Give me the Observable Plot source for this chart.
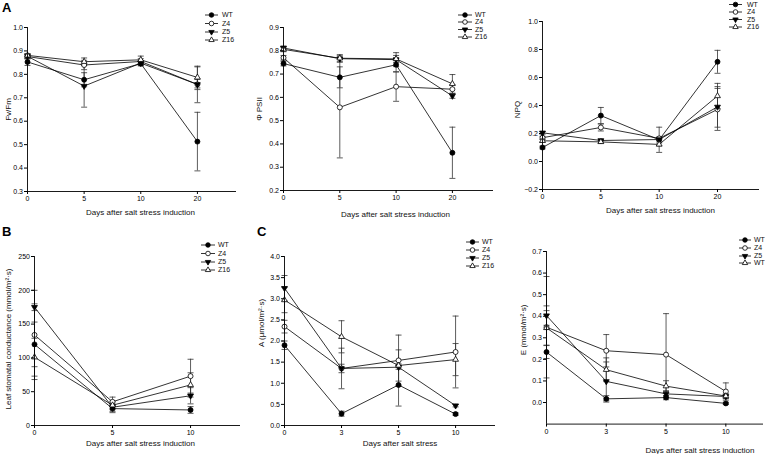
<!DOCTYPE html>
<html><head><meta charset="utf-8">
<script src="https://cdn.jsdelivr.net/npm/d3@7"></script>
<script src="https://cdn.jsdelivr.net/npm/@observablehq/plot@0.6"></script>
<style>
body{margin:0;background:#fff;}
#fig{position:relative;width:765px;height:454px;overflow:hidden;font-family:"Liberation Sans",Arial,sans-serif;background:#fff;}
#fig svg{position:absolute;overflow:visible;}
.letter{position:absolute;font-weight:bold;font-size:13px;line-height:13px;color:#000;}
</style></head><body><div id="fig"></div>
<script>
// ---- data ----
const series = ["WT", "Z4", "Z5", "Z16"];
const legendE = ["WT", "Z4", "Z5", "WT"];
const daysA = ["0", "5", "10", "20"];
const daysB = ["0", "5", "10"];
const daysC = ["0", "3", "5", "10"];

const fvfm = [[0.853, 0.777, 0.846, 0.513], [0.876, 0.84, 0.855, 0.757], [0.877, 0.75, 0.848, 0.757], [0.881, 0.854, 0.862, 0.787]];
const fvfmErr = [[0.015, 0.03, 0.01, 0.125], [0.01, 0.02, 0.012, 0.078], [0.01, 0.09, 0.01, 0.022], [0.008, 0.016, 0.016, 0.045]];

const psii = [[0.745, 0.686, 0.74, 0.362], [0.77, 0.557, 0.646, 0.635], [0.812, 0.766, 0.762, 0.606], [0.806, 0.768, 0.765, 0.658]];
const psiiErr = [[0.01, 0.045, 0.03, 0.11], [0.01, 0.217, 0.063, 0.02], [0.008, 0.015, 0.03, 0.01], [0.01, 0.015, 0.015, 0.04]];

const npq = [[0.10, 0.328, 0.155, 0.712], [0.17, 0.243, 0.165, 0.372], [0.205, 0.15, 0.157, 0.39], [0.148, 0.14, 0.122, 0.468]];
const npqErr = [[0.01, 0.058, 0.09, 0.082], [0.01, 0.025, 0.01, 0.15], [0.01, 0.01, 0.01, 0.145], [0.01, 0.01, 0.01, 0.09]];

const gs = [[120, 25, 23], [134, 35, 73], [175, 27, 44], [101, 30, 60]];
const gsErr = [[33, 6, 5], [66, 7, 25], [5, 6, 12], [28, 6, 18]];

const photo = [[1.9, 0.28, 0.96, 0.27], [2.34, 1.35, 1.54, 1.74], [3.25, 1.35, 1.38, 0.47], [2.97, 2.1, 1.42, 1.56]];
const photoErr = [[0.1, 0.06, 0.5, 0.03], [0.15, 0.48, 0.6, 0.85], [0.3, 0.1, 0.05, 0.03], [0.3, 0.38, 0.37, 0.38]];

const transp = [[0.234, 0.017, 0.023, -0.004], [0.349, 0.24, 0.222, 0.051], [0.403, 0.098, 0.04, 0.028], [0.346, 0.152, 0.076, 0.03]];
const transpErr = [[0.03, 0.015, 0.01, 0.005], [0.235, 0.075, 0.19, 0.04], [0.045, 0.09, 0.015, 0.01], [0.08, 0.055, 0.025, 0.01]];

// ---- symbols ----
const triUp = {draw(ctx, size) { const R = Math.sqrt(size / Math.PI) * 1.35; ctx.moveTo(0, -R); ctx.lineTo(R * 0.866, R / 2); ctx.lineTo(-R * 0.866, R / 2); ctx.closePath(); }};
const triDown = {draw(ctx, size) { const R = Math.sqrt(size / Math.PI) * 1.35; ctx.moveTo(0, R); ctx.lineTo(R * 0.866, -R / 2); ctx.lineTo(-R * 0.866, -R / 2); ctx.closePath(); }};
const capSym = {draw(ctx, size) { const w = Math.sqrt(size / Math.PI); ctx.moveTo(-w, 0); ctx.lineTo(w, 0); }};
const styles = [
  {symbol: d3.symbolCircle, fill: "black"},
  {symbol: d3.symbolCircle, fill: "white"},
  {symbol: triDown, fill: "black"},
  {symbol: triUp, fill: "white"}
];
const FONT = '"Liberation Sans", Arial, sans-serif';
const fig = document.getElementById("fig");

function panel(o) {
  const data = series.flatMap((s, i) => o.days.map((d, j) => ({s, i, x: j, y: o.vals[i][j], e: o.errs[i][j]})));
  const caps = data.flatMap(d => [{x: d.x, y: d.y - d.e}, {x: d.x, y: d.y + d.e}]);
  const marks = [
    Plot.ruleX(data, {x: "x", y1: d => d.y - d.e, y2: d => d.y + d.e, stroke: "#333", strokeWidth: 0.8}),
    Plot.dot(caps, {x: "x", y: "y", symbol: capSym, r: 3, stroke: "#333", strokeWidth: 0.8, fill: "none"}),
    Plot.line(data, {x: "x", y: "y", z: "s", stroke: "black", strokeWidth: 0.8}),
    ...styles.map((st, i) => Plot.dot(data.filter(d => d.i === i), {x: "x", y: "y", symbol: st.symbol, r: 2.5, fill: st.fill, stroke: "black", strokeWidth: 0.8})),
    Plot.ruleX([0], {stroke: "black", strokeWidth: 0.9}),
    Plot.ruleY([o.ydom[0]], {stroke: "black", strokeWidth: 0.9}),
    Plot.axisY({ticks: o.yticks, tickFormat: o.yfmt, tickSize: 3, tickPadding: 1.5, label: null, fontSize: 7}),
    Plot.axisX({ticks: o.days.map((d, j) => j), tickFormat: j => o.days[j], tickSize: 3, tickPadding: 2, label: null, fontSize: 7}),
    Plot.text([o.xlabel], {frameAnchor: "bottom", textAnchor: "middle", lineAnchor: "middle", dx: o.xdx, dy: o.xdy, fontSize: o.xfs || 8, fill: "#111"}),
    Plot.text([o.ylabel], {frameAnchor: "left", textAnchor: "middle", lineAnchor: "middle", rotate: -90, dx: -(o.mL - o.ylx), dy: o.ydy || 0, fontSize: 8, fill: "#111"})
  ];
  const svg = Plot.plot({
    width: o.width, height: o.height,
    marginLeft: o.mL, marginRight: o.mR, marginTop: o.mT, marginBottom: o.mB,
    x: {domain: [0, o.xmax]},
    y: {domain: o.ydom},
    style: {fontFamily: FONT, fontSize: "7px", color: "black", background: "none", overflow: "visible"},
    marks
  });
  svg.style.left = o.left + "px";
  svg.style.top = o.top + "px";
  // legend
  const g = d3.select(svg).append("g").attr("font-family", FONT).attr("font-size", 7).attr("text-anchor", "start");
  const L = o.legend;
  const names = o.names || series;
  names.forEach((nm, i) => {
    const yy = L.rows[i] - o.top;
    const x1 = L.x1 - o.left, x2 = L.x2 - o.left;
    g.append("line").attr("x1", x1).attr("x2", x2).attr("y1", yy).attr("y2", yy).attr("stroke", "black").attr("stroke-width", 0.8);
    g.append("path").attr("transform", `translate(${(x1 + x2) / 2},${yy})`)
      .attr("d", d3.symbol().type(styles[i].symbol).size(Math.PI * 2.3 * 2.3)())
      .attr("fill", styles[i].fill).attr("stroke", "black").attr("stroke-width", 0.8);
    g.append("text").attr("x", L.tx - o.left).attr("y", yy).attr("dy", "0.35em").attr("fill", "#111").text(nm);
  });
  fig.appendChild(svg);
}

const f1 = d3.format(".1f");

panel({left: 0, top: 0, width: 250, height: 230, mL: 27, mR: 14, mT: 27, mB: 39, xmax: 3.69,
  days: daysA, ydom: [0.3, 1.0], yticks: d3.range(3, 11).map(v => v / 10), yfmt: f1,
  vals: fvfm, errs: fvfmErr, ylabel: "Fv/Fm", ylx: 8, xlabel: "Days after salt stress induction", xdx: 8.5, xdy: 21,
  legend: {x1: 205, x2: 218, tx: 222, rows: [15, 23.5, 32, 40]}});

panel({left: 255, top: 0, width: 250, height: 230, mL: 28, mR: 12, mT: 27, mB: 40, xmax: 3.73,
  days: daysA, ydom: [0.2, 0.9], yticks: d3.range(2, 10).map(v => v / 10), yfmt: f1,
  vals: psii, errs: psiiErr, ylabel: "Φ PSII", ylx: 4, xlabel: "Days after salt stress induction", xdx: 7, xdy: 24,
  legend: {x1: 458, x2: 472, tx: 475, rows: [15, 22, 29.5, 37]}});

panel({left: 510, top: 0, width: 255, height: 230, mL: 32, mR: 6, mT: 21, mB: 41, xmax: 3.72,
  days: daysA, ydom: [-0.2, 1.0], yticks: d3.range(-2, 11, 2).map(v => v / 10), yfmt: f1,
  vals: npq, errs: npqErr, ylabel: "NPQ", ylx: 7, ydy: 4, xlabel: "Days after salt stress induction", xdx: 9.5, xdy: 21,
  legend: {x1: 729, x2: 742, tx: 747, rows: [4.5, 12, 19.5, 27]}});

panel({left: 0, top: 230, width: 250, height: 224, mL: 34, mR: 10, mT: 26, mB: 29, xmax: 2.64,
  days: daysB, ydom: [0, 250], yticks: d3.range(0, 251, 50), yfmt: d3.format("d"),
  vals: gs, errs: gsErr, ylabel: "Leaf stomatal conductance (mmol/m²·s)", ylx: 8, ydy: -2, xlabel: "Days after salt stress induction", xdx: 3, xdy: 18,
  legend: {x1: 201, x2: 215, tx: 218, rows: [245, 253.5, 262, 270]}});

panel({left: 255, top: 230, width: 250, height: 224, mL: 29, mR: 10, mT: 26, mB: 29, xmax: 3.7,
  days: daysC, ydom: [0, 4], yticks: d3.range(0, 9).map(v => v / 2), yfmt: f1,
  vals: photo, errs: photoErr, ylabel: "A (μmol/m²·s)", ylx: 6, ydy: -18, xlabel: "Days after salt stress", xdx: 10, xdy: 17.5,
  legend: {x1: 466, x2: 479, tx: 482, rows: [242, 250, 258, 266]}});

panel({left: 510, top: 230, width: 255, height: 224, mL: 36, mR: 2, mT: 21, mB: 30.4, xmax: 3.63,
  days: daysC, ydom: [-0.1, 0.7], yticks: d3.range(0, 8).map(v => v / 10), yfmt: f1,
  vals: transp, errs: transpErr, names: legendE, ylabel: "E (mmol/m²·s)", ylx: 13, ydy: -8, xlabel: "Days after salt stress induction", xdx: 45, xdy: 26,
  legend: {x1: 739, x2: 751, tx: 754, rows: [240, 248, 256, 263]}});

// panel letters
[["A", 2, 1], ["B", 2, 225], ["C", 257, 225]].forEach(([t, x, y]) => {
  const d = document.createElement("div");
  d.className = "letter"; d.textContent = t;
  d.style.left = x + "px"; d.style.top = y + "px";
  fig.appendChild(d);
});
</script></body></html>
